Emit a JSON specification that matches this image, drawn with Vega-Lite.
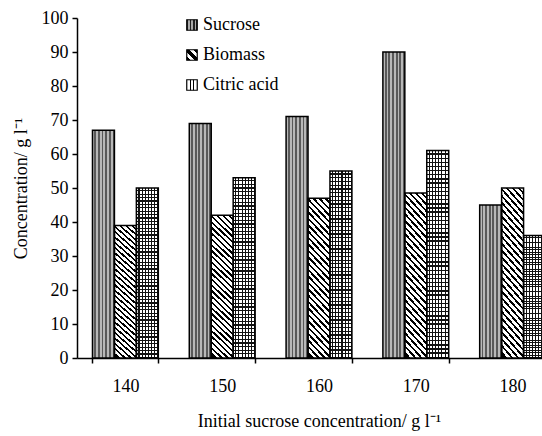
{
  "$schema": "https://vega.github.io/schema/vega-lite/v6.json",
  "width": 465,
  "height": 340,
  "autosize": {"type": "none"},
  "padding": {"left": 77, "top": 18, "right": 0, "bottom": 78},
  "background": "white",
  "config": {"view": {"stroke": null}, "font": "Liberation Serif"},
  "data": {
    "values": [
      {"conc": 140, "series": "Sucrose", "value": 67},
      {"conc": 140, "series": "Biomass", "value": 39},
      {"conc": 140, "series": "Citric acid", "value": 50},
      {"conc": 150, "series": "Sucrose", "value": 69},
      {"conc": 150, "series": "Biomass", "value": 42},
      {"conc": 150, "series": "Citric acid", "value": 53},
      {"conc": 160, "series": "Sucrose", "value": 71},
      {"conc": 160, "series": "Biomass", "value": 47},
      {"conc": 160, "series": "Citric acid", "value": 55},
      {"conc": 170, "series": "Sucrose", "value": 90},
      {"conc": 170, "series": "Biomass", "value": 48.5},
      {"conc": 170, "series": "Citric acid", "value": 61},
      {"conc": 180, "series": "Sucrose", "value": 45},
      {"conc": 180, "series": "Biomass", "value": 50},
      {"conc": 180, "series": "Citric acid", "value": 36}
    ]
  },
  "encoding": {
    "x": {
      "field": "conc", "type": "ordinal",
      "scale": {"range": [0, 484], "paddingInner": 0.32, "paddingOuter": 0.16},
      "axis": {
        "title": "Initial sucrose concentration/ g l⁻¹",
        "labelAngle": 0, "labelFont": "Liberation Serif", "labelFontSize": 18, "labelColor": "black",
        "tickBand": "extent", "tickSize": 5, "tickColor": "black", "tickWidth": 1.5,
        "domainColor": "black", "domainWidth": 1.5, "labelPadding": 14,
        "titleFont": "Liberation Serif", "titleFontSize": 18, "titleFontWeight": "normal", "titleColor": "black",
        "titlePadding": 17, "grid": false
      }
    },
    "xOffset": {"field": "series", "type": "nominal", "sort": ["Sucrose", "Biomass", "Citric acid"], "scale": {"paddingInner": 0, "paddingOuter": 0}},
    "y": {
      "field": "value", "type": "quantitative",
      "scale": {"domain": [0, 100], "nice": false},
      "axis": {
        "title": "Concentration/ g l⁻¹",
        "values": [0, 10, 20, 30, 40, 50, 60, 70, 80, 90, 100],
        "labelFont": "Liberation Serif", "labelFontSize": 18, "labelColor": "black",
        "tickSize": 5, "tickColor": "black", "tickWidth": 1.5, "domainColor": "black", "domainWidth": 1.5,
        "labelPadding": 4, "titleFont": "Liberation Serif", "titleFontSize": 18, "titleFontWeight": "normal",
        "titleColor": "black", "titlePadding": 11, "grid": false
      }
    }
  },
  "layer": [
    {
      "mark": {"type": "bar"},
      "encoding": {
        "fill": {
          "condition": [
            {"test": "datum.series === 'Sucrose'", "value": {"gradient": "linear", "x1": 0, "y1": 0, "x2": 1, "y2": 0, "stops": [
              {"offset": 0, "color": "#b8b8b8"}, {"offset": 0.0833, "color": "#b8b8b8"}, {"offset": 0.0833, "color": "#595959"}, {"offset": 0.1667, "color": "#595959"},
              {"offset": 0.1667, "color": "#b8b8b8"}, {"offset": 0.25, "color": "#b8b8b8"}, {"offset": 0.25, "color": "#595959"}, {"offset": 0.3333, "color": "#595959"},
              {"offset": 0.3333, "color": "#b8b8b8"}, {"offset": 0.4167, "color": "#b8b8b8"}, {"offset": 0.4167, "color": "#595959"}, {"offset": 0.5, "color": "#595959"},
              {"offset": 0.5, "color": "#b8b8b8"}, {"offset": 0.5833, "color": "#b8b8b8"}, {"offset": 0.5833, "color": "#595959"}, {"offset": 0.6667, "color": "#595959"},
              {"offset": 0.6667, "color": "#b8b8b8"}, {"offset": 0.75, "color": "#b8b8b8"}, {"offset": 0.75, "color": "#595959"}, {"offset": 0.8333, "color": "#595959"},
              {"offset": 0.8333, "color": "#b8b8b8"}, {"offset": 0.9167, "color": "#b8b8b8"}, {"offset": 0.9167, "color": "#595959"}, {"offset": 1, "color": "#595959"}
            ]}},
            {"test": "datum.series === 'Biomass'", "value": {"gradient": "linear", "x1": 1, "y1": 0, "x2": 0.8385, "y2": 1.099, "stops": [
              {"offset": 0, "color": "#fff"}, {"offset": 0.0214, "color": "#fff"}, {"offset": 0.0214, "color": "#000"}, {"offset": 0.0357, "color": "#000"},
              {"offset": 0.0357, "color": "#fff"}, {"offset": 0.0571, "color": "#fff"}, {"offset": 0.0571, "color": "#000"}, {"offset": 0.0714, "color": "#000"},
              {"offset": 0.0714, "color": "#fff"}, {"offset": 0.0929, "color": "#fff"}, {"offset": 0.0929, "color": "#000"}, {"offset": 0.1071, "color": "#000"},
              {"offset": 0.1071, "color": "#fff"}, {"offset": 0.1286, "color": "#fff"}, {"offset": 0.1286, "color": "#000"}, {"offset": 0.1429, "color": "#000"},
              {"offset": 0.1429, "color": "#fff"}, {"offset": 0.1643, "color": "#fff"}, {"offset": 0.1643, "color": "#000"}, {"offset": 0.1786, "color": "#000"},
              {"offset": 0.1786, "color": "#fff"}, {"offset": 0.2, "color": "#fff"}, {"offset": 0.2, "color": "#000"}, {"offset": 0.2143, "color": "#000"},
              {"offset": 0.2143, "color": "#fff"}, {"offset": 0.2357, "color": "#fff"}, {"offset": 0.2357, "color": "#000"}, {"offset": 0.25, "color": "#000"},
              {"offset": 0.25, "color": "#fff"}, {"offset": 0.2714, "color": "#fff"}, {"offset": 0.2714, "color": "#000"}, {"offset": 0.2857, "color": "#000"},
              {"offset": 0.2857, "color": "#fff"}, {"offset": 0.3071, "color": "#fff"}, {"offset": 0.3071, "color": "#000"}, {"offset": 0.3214, "color": "#000"},
              {"offset": 0.3214, "color": "#fff"}, {"offset": 0.3429, "color": "#fff"}, {"offset": 0.3429, "color": "#000"}, {"offset": 0.3571, "color": "#000"},
              {"offset": 0.3571, "color": "#fff"}, {"offset": 0.3786, "color": "#fff"}, {"offset": 0.3786, "color": "#000"}, {"offset": 0.3929, "color": "#000"},
              {"offset": 0.3929, "color": "#fff"}, {"offset": 0.4143, "color": "#fff"}, {"offset": 0.4143, "color": "#000"}, {"offset": 0.4286, "color": "#000"},
              {"offset": 0.4286, "color": "#fff"}, {"offset": 0.45, "color": "#fff"}, {"offset": 0.45, "color": "#000"}, {"offset": 0.4643, "color": "#000"},
              {"offset": 0.4643, "color": "#fff"}, {"offset": 0.4857, "color": "#fff"}, {"offset": 0.4857, "color": "#000"}, {"offset": 0.5, "color": "#000"},
              {"offset": 0.5, "color": "#fff"}, {"offset": 0.5214, "color": "#fff"}, {"offset": 0.5214, "color": "#000"}, {"offset": 0.5357, "color": "#000"},
              {"offset": 0.5357, "color": "#fff"}, {"offset": 0.5571, "color": "#fff"}, {"offset": 0.5571, "color": "#000"}, {"offset": 0.5714, "color": "#000"},
              {"offset": 0.5714, "color": "#fff"}, {"offset": 0.5929, "color": "#fff"}, {"offset": 0.5929, "color": "#000"}, {"offset": 0.6071, "color": "#000"},
              {"offset": 0.6071, "color": "#fff"}, {"offset": 0.6286, "color": "#fff"}, {"offset": 0.6286, "color": "#000"}, {"offset": 0.6429, "color": "#000"},
              {"offset": 0.6429, "color": "#fff"}, {"offset": 0.6643, "color": "#fff"}, {"offset": 0.6643, "color": "#000"}, {"offset": 0.6786, "color": "#000"},
              {"offset": 0.6786, "color": "#fff"}, {"offset": 0.7, "color": "#fff"}, {"offset": 0.7, "color": "#000"}, {"offset": 0.7143, "color": "#000"},
              {"offset": 0.7143, "color": "#fff"}, {"offset": 0.7357, "color": "#fff"}, {"offset": 0.7357, "color": "#000"}, {"offset": 0.75, "color": "#000"},
              {"offset": 0.75, "color": "#fff"}, {"offset": 0.7714, "color": "#fff"}, {"offset": 0.7714, "color": "#000"}, {"offset": 0.7857, "color": "#000"},
              {"offset": 0.7857, "color": "#fff"}, {"offset": 0.8071, "color": "#fff"}, {"offset": 0.8071, "color": "#000"}, {"offset": 0.8214, "color": "#000"},
              {"offset": 0.8214, "color": "#fff"}, {"offset": 0.8429, "color": "#fff"}, {"offset": 0.8429, "color": "#000"}, {"offset": 0.8571, "color": "#000"},
              {"offset": 0.8571, "color": "#fff"}, {"offset": 0.8786, "color": "#fff"}, {"offset": 0.8786, "color": "#000"}, {"offset": 0.8929, "color": "#000"},
              {"offset": 0.8929, "color": "#fff"}, {"offset": 0.9143, "color": "#fff"}, {"offset": 0.9143, "color": "#000"}, {"offset": 0.9286, "color": "#000"},
              {"offset": 0.9286, "color": "#fff"}, {"offset": 0.95, "color": "#fff"}, {"offset": 0.95, "color": "#000"}, {"offset": 0.9643, "color": "#000"},
              {"offset": 0.9643, "color": "#fff"}, {"offset": 0.9857, "color": "#fff"}, {"offset": 0.9857, "color": "#000"}, {"offset": 1, "color": "#000"}
            ]}}
          ],
          "value": {"gradient": "linear", "x1": 0, "y1": 0, "x2": 1, "y2": 0, "stops": [
            {"offset": 0, "color": "#fff"}, {"offset": 0.0957, "color": "#fff"}, {"offset": 0.0957, "color": "#111"}, {"offset": 0.1429, "color": "#111"},
            {"offset": 0.1429, "color": "#fff"}, {"offset": 0.2386, "color": "#fff"}, {"offset": 0.2386, "color": "#111"}, {"offset": 0.2857, "color": "#111"},
            {"offset": 0.2857, "color": "#fff"}, {"offset": 0.3814, "color": "#fff"}, {"offset": 0.3814, "color": "#111"}, {"offset": 0.4286, "color": "#111"},
            {"offset": 0.4286, "color": "#fff"}, {"offset": 0.5243, "color": "#fff"}, {"offset": 0.5243, "color": "#111"}, {"offset": 0.5714, "color": "#111"},
            {"offset": 0.5714, "color": "#fff"}, {"offset": 0.6671, "color": "#fff"}, {"offset": 0.6671, "color": "#111"}, {"offset": 0.7143, "color": "#111"},
            {"offset": 0.7143, "color": "#fff"}, {"offset": 0.81, "color": "#fff"}, {"offset": 0.81, "color": "#111"}, {"offset": 0.8571, "color": "#111"},
            {"offset": 0.8571, "color": "#fff"}, {"offset": 0.9529, "color": "#fff"}, {"offset": 0.9529, "color": "#111"}, {"offset": 1, "color": "#111"}
          ]}
        }
      }
    },
    {
      "transform": [{"filter": "datum.series === 'Citric acid'"}],
      "mark": {"type": "bar", "fill": {"gradient": "linear", "x1": 0, "y1": 0, "x2": 0, "y2": 1, "stops": [
        {"offset": 0, "color": "rgba(0,0,0,0)"}, {"offset": 0.0133, "color": "rgba(0,0,0,0)"}, {"offset": 0.0133, "color": "#111"}, {"offset": 0.02, "color": "#111"},
        {"offset": 0.02, "color": "rgba(0,0,0,0)"}, {"offset": 0.0333, "color": "rgba(0,0,0,0)"}, {"offset": 0.0333, "color": "#111"}, {"offset": 0.04, "color": "#111"},
        {"offset": 0.04, "color": "rgba(0,0,0,0)"}, {"offset": 0.0533, "color": "rgba(0,0,0,0)"}, {"offset": 0.0533, "color": "#111"}, {"offset": 0.06, "color": "#111"},
        {"offset": 0.06, "color": "rgba(0,0,0,0)"}, {"offset": 0.0733, "color": "rgba(0,0,0,0)"}, {"offset": 0.0733, "color": "#111"}, {"offset": 0.08, "color": "#111"},
        {"offset": 0.08, "color": "rgba(0,0,0,0)"}, {"offset": 0.0933, "color": "rgba(0,0,0,0)"}, {"offset": 0.0933, "color": "#111"}, {"offset": 0.1, "color": "#111"},
        {"offset": 0.1, "color": "rgba(0,0,0,0)"}, {"offset": 0.1133, "color": "rgba(0,0,0,0)"}, {"offset": 0.1133, "color": "#111"}, {"offset": 0.12, "color": "#111"},
        {"offset": 0.12, "color": "rgba(0,0,0,0)"}, {"offset": 0.1333, "color": "rgba(0,0,0,0)"}, {"offset": 0.1333, "color": "#111"}, {"offset": 0.14, "color": "#111"},
        {"offset": 0.14, "color": "rgba(0,0,0,0)"}, {"offset": 0.1533, "color": "rgba(0,0,0,0)"}, {"offset": 0.1533, "color": "#111"}, {"offset": 0.16, "color": "#111"},
        {"offset": 0.16, "color": "rgba(0,0,0,0)"}, {"offset": 0.1733, "color": "rgba(0,0,0,0)"}, {"offset": 0.1733, "color": "#111"}, {"offset": 0.18, "color": "#111"},
        {"offset": 0.18, "color": "rgba(0,0,0,0)"}, {"offset": 0.1933, "color": "rgba(0,0,0,0)"}, {"offset": 0.1933, "color": "#111"}, {"offset": 0.2, "color": "#111"},
        {"offset": 0.2, "color": "rgba(0,0,0,0)"}, {"offset": 0.2133, "color": "rgba(0,0,0,0)"}, {"offset": 0.2133, "color": "#111"}, {"offset": 0.22, "color": "#111"},
        {"offset": 0.22, "color": "rgba(0,0,0,0)"}, {"offset": 0.2333, "color": "rgba(0,0,0,0)"}, {"offset": 0.2333, "color": "#111"}, {"offset": 0.24, "color": "#111"},
        {"offset": 0.24, "color": "rgba(0,0,0,0)"}, {"offset": 0.2533, "color": "rgba(0,0,0,0)"}, {"offset": 0.2533, "color": "#111"}, {"offset": 0.26, "color": "#111"},
        {"offset": 0.26, "color": "rgba(0,0,0,0)"}, {"offset": 0.2733, "color": "rgba(0,0,0,0)"}, {"offset": 0.2733, "color": "#111"}, {"offset": 0.28, "color": "#111"},
        {"offset": 0.28, "color": "rgba(0,0,0,0)"}, {"offset": 0.2933, "color": "rgba(0,0,0,0)"}, {"offset": 0.2933, "color": "#111"}, {"offset": 0.3, "color": "#111"},
        {"offset": 0.3, "color": "rgba(0,0,0,0)"}, {"offset": 0.3133, "color": "rgba(0,0,0,0)"}, {"offset": 0.3133, "color": "#111"}, {"offset": 0.32, "color": "#111"},
        {"offset": 0.32, "color": "rgba(0,0,0,0)"}, {"offset": 0.3333, "color": "rgba(0,0,0,0)"}, {"offset": 0.3333, "color": "#111"}, {"offset": 0.34, "color": "#111"},
        {"offset": 0.34, "color": "rgba(0,0,0,0)"}, {"offset": 0.3533, "color": "rgba(0,0,0,0)"}, {"offset": 0.3533, "color": "#111"}, {"offset": 0.36, "color": "#111"},
        {"offset": 0.36, "color": "rgba(0,0,0,0)"}, {"offset": 0.3733, "color": "rgba(0,0,0,0)"}, {"offset": 0.3733, "color": "#111"}, {"offset": 0.38, "color": "#111"},
        {"offset": 0.38, "color": "rgba(0,0,0,0)"}, {"offset": 0.3933, "color": "rgba(0,0,0,0)"}, {"offset": 0.3933, "color": "#111"}, {"offset": 0.4, "color": "#111"},
        {"offset": 0.4, "color": "rgba(0,0,0,0)"}, {"offset": 0.4133, "color": "rgba(0,0,0,0)"}, {"offset": 0.4133, "color": "#111"}, {"offset": 0.42, "color": "#111"},
        {"offset": 0.42, "color": "rgba(0,0,0,0)"}, {"offset": 0.4333, "color": "rgba(0,0,0,0)"}, {"offset": 0.4333, "color": "#111"}, {"offset": 0.44, "color": "#111"},
        {"offset": 0.44, "color": "rgba(0,0,0,0)"}, {"offset": 0.4533, "color": "rgba(0,0,0,0)"}, {"offset": 0.4533, "color": "#111"}, {"offset": 0.46, "color": "#111"},
        {"offset": 0.46, "color": "rgba(0,0,0,0)"}, {"offset": 0.4733, "color": "rgba(0,0,0,0)"}, {"offset": 0.4733, "color": "#111"}, {"offset": 0.48, "color": "#111"},
        {"offset": 0.48, "color": "rgba(0,0,0,0)"}, {"offset": 0.4933, "color": "rgba(0,0,0,0)"}, {"offset": 0.4933, "color": "#111"}, {"offset": 0.5, "color": "#111"},
        {"offset": 0.5, "color": "rgba(0,0,0,0)"}, {"offset": 0.5133, "color": "rgba(0,0,0,0)"}, {"offset": 0.5133, "color": "#111"}, {"offset": 0.52, "color": "#111"},
        {"offset": 0.52, "color": "rgba(0,0,0,0)"}, {"offset": 0.5333, "color": "rgba(0,0,0,0)"}, {"offset": 0.5333, "color": "#111"}, {"offset": 0.54, "color": "#111"},
        {"offset": 0.54, "color": "rgba(0,0,0,0)"}, {"offset": 0.5533, "color": "rgba(0,0,0,0)"}, {"offset": 0.5533, "color": "#111"}, {"offset": 0.56, "color": "#111"},
        {"offset": 0.56, "color": "rgba(0,0,0,0)"}, {"offset": 0.5733, "color": "rgba(0,0,0,0)"}, {"offset": 0.5733, "color": "#111"}, {"offset": 0.58, "color": "#111"},
        {"offset": 0.58, "color": "rgba(0,0,0,0)"}, {"offset": 0.5933, "color": "rgba(0,0,0,0)"}, {"offset": 0.5933, "color": "#111"}, {"offset": 0.6, "color": "#111"},
        {"offset": 0.6, "color": "rgba(0,0,0,0)"}, {"offset": 0.6133, "color": "rgba(0,0,0,0)"}, {"offset": 0.6133, "color": "#111"}, {"offset": 0.62, "color": "#111"},
        {"offset": 0.62, "color": "rgba(0,0,0,0)"}, {"offset": 0.6333, "color": "rgba(0,0,0,0)"}, {"offset": 0.6333, "color": "#111"}, {"offset": 0.64, "color": "#111"},
        {"offset": 0.64, "color": "rgba(0,0,0,0)"}, {"offset": 0.6533, "color": "rgba(0,0,0,0)"}, {"offset": 0.6533, "color": "#111"}, {"offset": 0.66, "color": "#111"},
        {"offset": 0.66, "color": "rgba(0,0,0,0)"}, {"offset": 0.6733, "color": "rgba(0,0,0,0)"}, {"offset": 0.6733, "color": "#111"}, {"offset": 0.68, "color": "#111"},
        {"offset": 0.68, "color": "rgba(0,0,0,0)"}, {"offset": 0.6933, "color": "rgba(0,0,0,0)"}, {"offset": 0.6933, "color": "#111"}, {"offset": 0.7, "color": "#111"},
        {"offset": 0.7, "color": "rgba(0,0,0,0)"}, {"offset": 0.7133, "color": "rgba(0,0,0,0)"}, {"offset": 0.7133, "color": "#111"}, {"offset": 0.72, "color": "#111"},
        {"offset": 0.72, "color": "rgba(0,0,0,0)"}, {"offset": 0.7333, "color": "rgba(0,0,0,0)"}, {"offset": 0.7333, "color": "#111"}, {"offset": 0.74, "color": "#111"},
        {"offset": 0.74, "color": "rgba(0,0,0,0)"}, {"offset": 0.7533, "color": "rgba(0,0,0,0)"}, {"offset": 0.7533, "color": "#111"}, {"offset": 0.76, "color": "#111"},
        {"offset": 0.76, "color": "rgba(0,0,0,0)"}, {"offset": 0.7733, "color": "rgba(0,0,0,0)"}, {"offset": 0.7733, "color": "#111"}, {"offset": 0.78, "color": "#111"},
        {"offset": 0.78, "color": "rgba(0,0,0,0)"}, {"offset": 0.7933, "color": "rgba(0,0,0,0)"}, {"offset": 0.7933, "color": "#111"}, {"offset": 0.8, "color": "#111"},
        {"offset": 0.8, "color": "rgba(0,0,0,0)"}, {"offset": 0.8133, "color": "rgba(0,0,0,0)"}, {"offset": 0.8133, "color": "#111"}, {"offset": 0.82, "color": "#111"},
        {"offset": 0.82, "color": "rgba(0,0,0,0)"}, {"offset": 0.8333, "color": "rgba(0,0,0,0)"}, {"offset": 0.8333, "color": "#111"}, {"offset": 0.84, "color": "#111"},
        {"offset": 0.84, "color": "rgba(0,0,0,0)"}, {"offset": 0.8533, "color": "rgba(0,0,0,0)"}, {"offset": 0.8533, "color": "#111"}, {"offset": 0.86, "color": "#111"},
        {"offset": 0.86, "color": "rgba(0,0,0,0)"}, {"offset": 0.8733, "color": "rgba(0,0,0,0)"}, {"offset": 0.8733, "color": "#111"}, {"offset": 0.88, "color": "#111"},
        {"offset": 0.88, "color": "rgba(0,0,0,0)"}, {"offset": 0.8933, "color": "rgba(0,0,0,0)"}, {"offset": 0.8933, "color": "#111"}, {"offset": 0.9, "color": "#111"},
        {"offset": 0.9, "color": "rgba(0,0,0,0)"}, {"offset": 0.9133, "color": "rgba(0,0,0,0)"}, {"offset": 0.9133, "color": "#111"}, {"offset": 0.92, "color": "#111"},
        {"offset": 0.92, "color": "rgba(0,0,0,0)"}, {"offset": 0.9333, "color": "rgba(0,0,0,0)"}, {"offset": 0.9333, "color": "#111"}, {"offset": 0.94, "color": "#111"},
        {"offset": 0.94, "color": "rgba(0,0,0,0)"}, {"offset": 0.9533, "color": "rgba(0,0,0,0)"}, {"offset": 0.9533, "color": "#111"}, {"offset": 0.96, "color": "#111"},
        {"offset": 0.96, "color": "rgba(0,0,0,0)"}, {"offset": 0.9733, "color": "rgba(0,0,0,0)"}, {"offset": 0.9733, "color": "#111"}, {"offset": 0.98, "color": "#111"},
        {"offset": 0.98, "color": "rgba(0,0,0,0)"}, {"offset": 0.9933, "color": "rgba(0,0,0,0)"}, {"offset": 0.9933, "color": "#111"}, {"offset": 1, "color": "#111"}
      ]}}
    },
    {
      "mark": {"type": "bar", "fillOpacity": 0, "stroke": "black", "strokeWidth": 1.5},
      "encoding": {
        "fill": {
          "field": "series", "type": "nominal", "sort": ["Sucrose", "Biomass", "Citric acid"],
          "scale": {"range": [
            {"expr": "{gradient: 'linear', x1: 0, y1: 0, x2: 1, y2: 0, stops: [{offset: 0, color: '#222'}, {offset: 0.15, color: '#222'}, {offset: 0.15, color: '#aaa'}, {offset: 0.3, color: '#aaa'}, {offset: 0.3, color: '#222'}, {offset: 0.45, color: '#222'}, {offset: 0.45, color: '#aaa'}, {offset: 0.6, color: '#aaa'}, {offset: 0.6, color: '#222'}, {offset: 0.75, color: '#222'}, {offset: 0.75, color: '#aaa'}, {offset: 0.88, color: '#aaa'}, {offset: 0.88, color: '#222'}, {offset: 1, color: '#222'}]}"},
            {"expr": "{gradient: 'linear', x1: 1, y1: 0, x2: 0, y2: 1, stops: [{offset: 0, color: '#000'}, {offset: 0.2, color: '#000'}, {offset: 0.2, color: '#fff'}, {offset: 0.4, color: '#fff'}, {offset: 0.4, color: '#000'}, {offset: 0.6, color: '#000'}, {offset: 0.6, color: '#fff'}, {offset: 0.8, color: '#fff'}, {offset: 0.8, color: '#000'}, {offset: 1, color: '#000'}]}"},
            {"expr": "{gradient: 'linear', x1: 0, y1: 0, x2: 1, y2: 0, stops: [{offset: 0, color: '#fff'}, {offset: 0.28, color: '#fff'}, {offset: 0.28, color: '#000'}, {offset: 0.4, color: '#000'}, {offset: 0.4, color: '#fff'}, {offset: 0.6, color: '#fff'}, {offset: 0.6, color: '#000'}, {offset: 0.72, color: '#000'}, {offset: 0.72, color: '#fff'}, {offset: 1, color: '#fff'}]}"}
          ]},
          "legend": {
            "title": null, "orient": "none", "legendX": 106, "legendY": -2,
            "symbolType": "square", "symbolSize": 110, "symbolStrokeColor": "black", "symbolStrokeWidth": 1.2,
            "symbolOpacity": 1,
            "labelFont": "Liberation Serif", "labelFontSize": 18, "labelColor": "black", "labelOffset": 2,
            "rowPadding": 12, "padding": 0
          }
        }
      }
    }
  ]
}
